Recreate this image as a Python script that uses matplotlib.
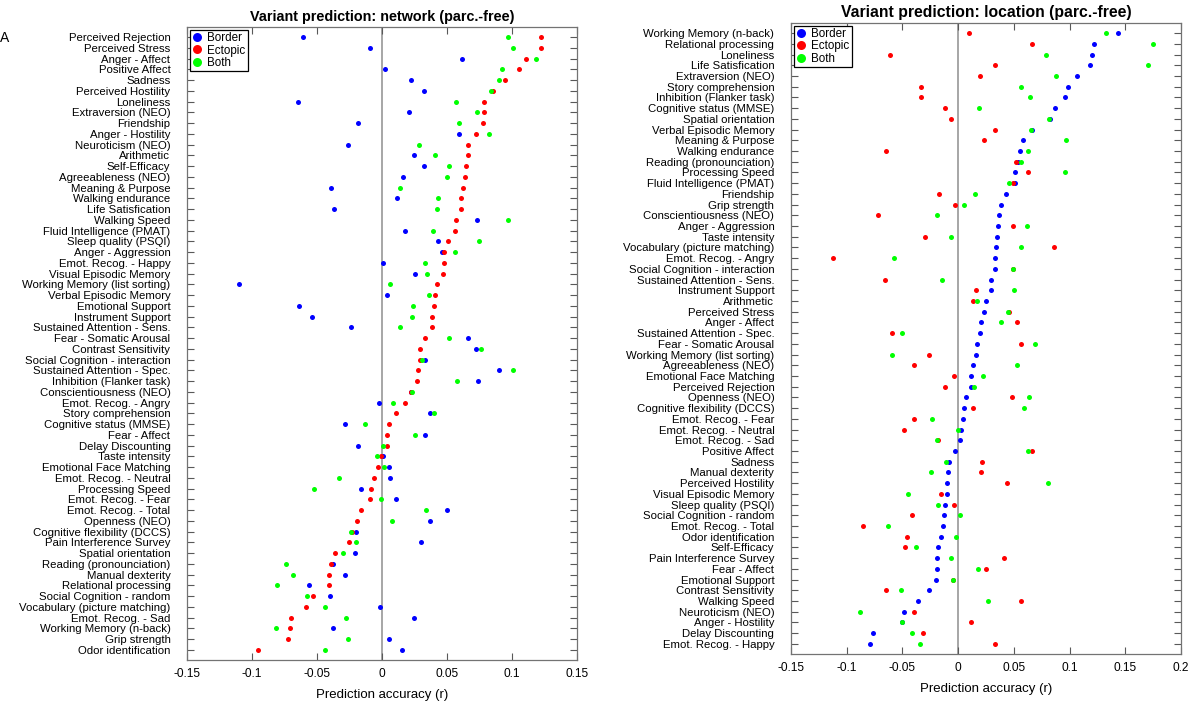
import matplotlib.pyplot as plt
import numpy as np

plt.rcParams['font.family'] = ['Liberation Sans', 'DejaVu Sans']

# ---- left panel: network ----
net_labels = ['Perceived Rejection', 'Perceived Stress', 'Anger - Affect', 'Positive Affect',
              'Sadness', 'Perceived Hostility', 'Loneliness', 'Extraversion (NEO)', 'Friendship',
              'Anger - Hostility', 'Neuroticism (NEO)', 'Arithmetic', 'Self-Efficacy',
              'Agreeableness (NEO)', 'Meaning & Purpose', 'Walking endurance', 'Life Satisfication',
              'Walking Speed', 'Fluid Intelligence (PMAT)', 'Sleep quality (PSQI)',
              'Anger - Aggression', 'Emot. Recog. - Happy', 'Visual Episodic Memory',
              'Working Memory (list sorting)', 'Verbal Episodic Memory', 'Emotional Support',
              'Instrument Support', 'Sustained Attention - Sens.', 'Fear - Somatic Arousal',
              'Contrast Sensitivity', 'Social Cognition - interaction',
              'Sustained Attention - Spec.', 'Inhibition (Flanker task)',
              'Conscientiousness (NEO)', 'Emot. Recog. - Angry', 'Story comprehension',
              'Cognitive status (MMSE)', 'Fear - Affect', 'Delay Discounting', 'Taste intensity',
              'Emotional Face Matching', 'Emot. Recog. - Neutral', 'Processing Speed',
              'Emot. Recog. - Fear', 'Emot. Recog. - Total', 'Openness (NEO)',
              'Cognitive flexibility (DCCS)', 'Pain Interference Survey', 'Spatial orientation',
              'Reading (pronounciation)', 'Manual dexterity', 'Relational processing',
              'Social Cognition - random', 'Vocabulary (picture matching)', 'Emot. Recog. - Sad',
              'Working Memory (n-back)', 'Grip strength', 'Odor identification']
net_border = [-0.061, -0.0095, 0.0617, 0.0026, 0.0219, 0.032, -0.0646, 0.021, -0.0185,
              0.0588, -0.026, 0.0245, 0.0326, 0.0162, -0.039, 0.0112, -0.0372, 0.0733,
              0.0176, 0.0433, 0.046, 0.0009, 0.0254, -0.110, 0.0037, -0.064, -0.0542,
              -0.0237, 0.0663, 0.0724, 0.0329, 0.0903, 0.0736, 0.0225, -0.002, 0.0372,
              -0.0283, 0.0332, -0.0182, 0.0006, 0.0055, 0.0058, -0.0162, 0.011, 0.0496,
              0.0372, -0.0202, 0.0297, -0.021, -0.0375, -0.0286, -0.056, -0.0401, -0.0014,
              0.0248, -0.0375, 0.0052, 0.0156]
net_ectopic = [0.1226, 0.1226, 0.111, 0.105, 0.0943, 0.0857, 0.0785, 0.0785, 0.0776,
               0.0724, 0.0663, 0.0658, 0.0643, 0.0635, 0.0623, 0.0609, 0.0606, 0.0565,
               0.056, 0.051, 0.0473, 0.0473, 0.047, 0.0421, 0.0407, 0.0401, 0.0387,
               0.0384, 0.0332, 0.0291, 0.0288, 0.0274, 0.0271, 0.0219, 0.0176, 0.0104,
               0.0052, 0.004, 0.0037, -0.0009, -0.0029, -0.0063, -0.0084, -0.0089, -0.0159,
               -0.0196, -0.0228, -0.0254, -0.036, -0.0395, -0.041, -0.0412, -0.0534, -0.0583,
               -0.0704, -0.071, -0.0727, -0.0955]
net_both = [0.0966, 0.101, 0.1185, 0.0926, 0.090, 0.084, 0.0568, 0.0733, 0.0591,
            0.0822, 0.0283, 0.041, 0.0516, 0.0496, 0.0136, 0.0427, 0.0421, 0.0966,
            0.039, 0.0747, 0.0562, 0.0329, 0.0346, 0.0058, 0.0363, 0.0237, 0.0234,
            0.0138, 0.0513, 0.0764, 0.0309, 0.1004, 0.0577, 0.0231, 0.0084, 0.0401,
            -0.0133, 0.0257, 0.0006, -0.004, 0.0014, -0.0329, -0.0525, -0.0012, 0.0337,
            0.0078, -0.024, -0.0202, -0.030, -0.0738, -0.0684, -0.0805, -0.0577, -0.0438,
            -0.028, -0.0816, -0.0262, -0.0436]

# ---- right panel: location ----
loc_labels = ['Working Memory (n-back)', 'Relational processing', 'Loneliness',
              'Life Satisfication', 'Extraversion (NEO)', 'Story comprehension',
              'Inhibition (Flanker task)', 'Cognitive status (MMSE)', 'Spatial orientation',
              'Verbal Episodic Memory', 'Meaning & Purpose', 'Walking endurance',
              'Reading (pronounciation)', 'Processing Speed', 'Fluid Intelligence (PMAT)',
              'Friendship', 'Grip strength', 'Conscientiousness (NEO)', 'Anger - Aggression',
              'Taste intensity', 'Vocabulary (picture matching)', 'Emot. Recog. - Angry',
              'Social Cognition - interaction', 'Sustained Attention - Sens.',
              'Instrument Support', 'Arithmetic', 'Perceived Stress', 'Anger - Affect',
              'Sustained Attention - Spec.', 'Fear - Somatic Arousal',
              'Working Memory (list sorting)', 'Agreeableness (NEO)', 'Emotional Face Matching',
              'Perceived Rejection', 'Openness (NEO)', 'Cognitive flexibility (DCCS)',
              'Emot. Recog. - Fear', 'Emot. Recog. - Neutral', 'Emot. Recog. - Sad',
              'Positive Affect', 'Sadness', 'Manual dexterity', 'Perceived Hostility',
              'Visual Episodic Memory', 'Sleep quality (PSQI)', 'Social Cognition - random',
              'Emot. Recog. - Total', 'Odor identification', 'Self-Efficacy',
              'Pain Interference Survey', 'Fear - Affect', 'Emotional Support',
              'Contrast Sensitivity', 'Walking Speed', 'Neuroticism (NEO)', 'Anger - Hostility',
              'Delay Discounting', 'Emot. Recog. - Happy']
loc_border = [0.143, 0.1216, 0.1203, 0.1182, 0.1064, 0.0982, 0.0958, 0.0866, 0.0822,
              0.0666, 0.0578, 0.0557, 0.0535, 0.0513, 0.0506, 0.0432, 0.0387, 0.0364,
              0.036, 0.035, 0.034, 0.0333, 0.033, 0.0296, 0.0296, 0.0251, 0.0234, 0.0204,
              0.0194, 0.017, 0.0163, 0.0136, 0.0116, 0.0116, 0.0068, 0.0048, 0.0041,
              0.0027, 0.0014, -0.0027, -0.0085, -0.0095, -0.0099, -0.0102, -0.0122,
              -0.0129, -0.0133, -0.0153, -0.0177, -0.019, -0.019, -0.0197, -0.0265,
              -0.0357, -0.0483, -0.050, -0.0761, -0.0788]
loc_ectopic = [0.0095, 0.0659, -0.0612, 0.033, 0.0194, -0.033, -0.0336, -0.0116, -0.0065,
               0.0333, 0.0228, -0.0646, 0.052, 0.0629, 0.0489, -0.0173, -0.003, -0.0717,
               0.0489, -0.0299, 0.086, -0.1121, 0.049, -0.0659, 0.0156, 0.0133, 0.0455,
               0.0527, -0.0591, 0.056, -0.0258, -0.0394, -0.0037, -0.0116, 0.0486, 0.0133,
               -0.0394, -0.0483, -0.0177, 0.0659, 0.0214, 0.0207, 0.0438, -0.0156, -0.0037,
               -0.0411, -0.0856, -0.0462, -0.0476, 0.0408, 0.0248, -0.0045, -0.0649,
               0.0567, -0.0394, 0.0119, -0.0319, 0.033]
loc_both = [0.133, 0.1747, 0.0792, 0.1699, 0.088, 0.056, 0.0642, 0.0183, 0.0819, 0.0652,
            0.0968, 0.0629, 0.0567, 0.0962, 0.0459, 0.015, 0.0048, -0.0194, 0.0622,
            -0.0068, 0.0567, -0.0574, 0.0493, -0.0143, 0.0503, 0.0173, 0.0449, 0.038,
            -0.050, 0.0693, -0.0591, 0.0527, 0.0221, 0.0139, 0.0639, 0.0595, -0.0231,
            -0.0003, -0.0187, 0.0629, -0.0112, -0.0241, 0.0805, -0.0452, -0.0177, 0.0014,
            -0.0632, -0.002, -0.0377, -0.0061, 0.018, -0.0051, -0.0513, 0.0268, -0.0877,
            -0.0506, -0.0418, -0.034]

net_ticks = [-0.15, -0.1, -0.05, 0, 0.05, 0.1, 0.15]
loc_ticks = [-0.15, -0.1, -0.05, 0, 0.05, 0.1, 0.15, 0.2]


def draw_panel(ax, labels, border, ectopic, both, title, xticks, title_size):
    y = np.arange(1, len(labels) + 1)
    ax.axvline(0, color='0.65', lw=1.4, zorder=1)
    ax.plot(border, y, 'o', color=(0, 0, 1), ms=3.6, mec='none', label='Border', zorder=3)
    ax.plot(ectopic, y, 'o', color=(1, 0, 0), ms=3.6, mec='none', label='Ectopic', zorder=3)
    ax.plot(both, y, 'o', color=(0, 1, 0), ms=3.6, mec='none', label='Both', zorder=3)
    ax.set_ylim(len(labels) + 0.95, 0.05)
    ax.set_xlim(xticks[0], xticks[-1])
    ax.set_yticks(y)
    ax.set_yticklabels(labels, fontsize=8.2)
    ax.set_xticks(xticks)
    ax.set_xticklabels(['%g' % t for t in xticks], fontsize=8.6)
    ax.tick_params(direction='in', top=True, right=True, length=5, color='0.35')
    ax.tick_params(axis='y', pad=12)
    ax.tick_params(axis='x', pad=6)
    for s in ax.spines.values():
        s.set_color('0.45')
        s.set_linewidth(0.9)
    ax.set_title(title, fontsize=title_size, fontweight='bold', pad=4)
    ax.set_xlabel('Prediction accuracy (r)', fontsize=9.5, labelpad=6)
    leg = ax.legend(loc='upper left', fontsize=8.4, markerscale=1.8, handlelength=0.8,
                    handletextpad=0.5, borderpad=0.2, labelspacing=0.02,
                    borderaxespad=0.25, fancybox=False, framealpha=1)
    leg.get_frame().set_edgecolor('black')
    leg.get_frame().set_linewidth(0.9)


fig = plt.figure(figsize=(11.96, 7.02), dpi=100)
ax1 = fig.add_axes([0.1564, 0.0598, 0.3261, 0.9017])
ax2 = fig.add_axes([0.6614, 0.0684, 0.3261, 0.8989])

draw_panel(ax1, net_labels, net_border, net_ectopic, net_both,
           'Variant prediction: network (parc.-free)', net_ticks, 10.4)
draw_panel(ax2, loc_labels, loc_border, loc_ectopic, loc_both,
           'Variant prediction: location (parc.-free)', loc_ticks, 11.3)

fig.text(0.0, 0.946, 'A', fontsize=10, ha='left', va='center')

fig.savefig('out.png', dpi=100)
